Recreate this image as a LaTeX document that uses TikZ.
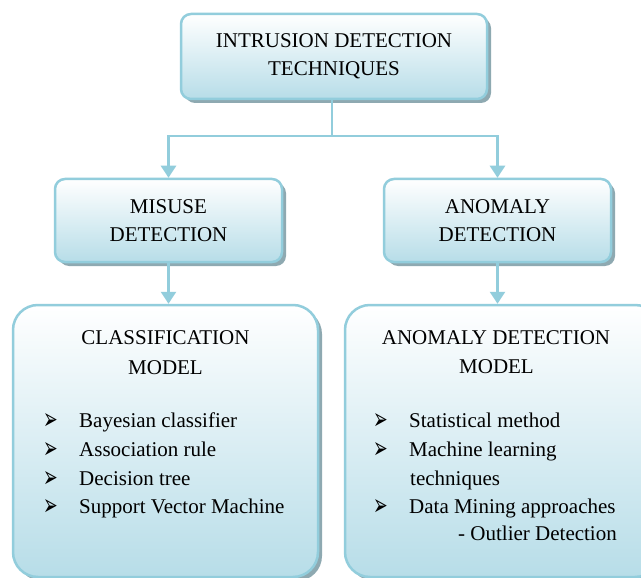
\documentclass[tikz,border=0pt]{standalone}
\usepackage{fontspec}
\usepackage{graphicx}
\setmainfont{Liberation Serif}
\newfontfamily\dejavu{DejaVu Sans}
\usetikzlibrary{shadows,arrows.meta}
\definecolor{edgec}{HTML}{92CDDC}
\definecolor{fillb}{HTML}{B7DDE8}
\definecolor{shadc}{HTML}{8EA9B1}
\newcommand\bul{\makebox[36pt][l]{\dejavu\fontsize{25}{25}\selectfont\raisebox{-2pt}{\scalebox{0.7}[1.2]{➢}}}}
\tikzset{
  box/.style={draw=edgec, line width=2.5pt, top color=white, bottom color=fillb,
    drop shadow={shadow xshift=4pt, shadow yshift=-4pt, fill=shadc, opacity=1},
    font=\fontsize{21}{28}\selectfont, align=center, inner sep=0pt},
  conn/.style={draw=edgec, line width=2.5pt},
  arr/.style={conn, -{Triangle[width=15pt,length=12pt]}},
  txt/.style={font=\fontsize{21}{28}\selectfont, anchor=base west, inner sep=0pt},
  ttl/.style={font=\fontsize{21}{28}\selectfont, anchor=base, inner sep=0pt},
}
\begin{document}
\begin{tikzpicture}[x=1pt,y=-1pt]
\path[use as bounding box, clip] (0,0) rectangle (641,578);
\fill[white] (0,0) rectangle (641,578);
% boxes
\node[box, minimum width=306pt, minimum height=85pt, rounded corners=10pt] (top) at (334,56.5) {INTRUSION DETECTION\\TECHNIQUES};
\node[box, minimum width=227pt, minimum height=83pt, rounded corners=10pt] (mis) at (168.5,220.5) {MISUSE\\DETECTION};
\node[box, minimum width=227pt, minimum height=83pt, rounded corners=10pt] (ano) at (497.5,220.5) {ANOMALY\\DETECTION};
\node[box, minimum width=305pt, minimum height=272pt, rounded corners=25pt] (cls) at (165.5,441) {};
\node[box, minimum width=315pt, minimum height=272pt, rounded corners=25pt] (amod) at (502.5,441) {};
% connectors
\coordinate (jt) at (332,136);
\draw[conn] (top.south -| jt) -- (jt);
\draw[arr] (jt) -| (mis.north);
\draw[arr] (jt) -| (ano.north);
\draw[arr] (mis.south) -- (mis.south |- cls.north);
\draw[arr] (ano.south) -- (ano.south |- amod.north);
% classification model text
\node[ttl] (clsT1) at (165.5,344) {CLASSIFICATION};
\node[ttl] (clsT2) at (165.5,374) {MODEL};
\node[txt] (c1) at (43,427) {\bul Bayesian classifier};
\node[txt] (c2) at (43,456) {\bul Association rule};
\node[txt] (c3) at (43,485) {\bul Decision tree};
\node[txt] (c4) at (43,513) {\bul Support Vector Machine};
% anomaly detection model text
\node[ttl] (amT1) at (496,344) {ANOMALY DETECTION};
\node[ttl] (amT2) at (496.5,373) {MODEL};
\node[txt] (a1) at (373,427) {\bul Statistical method};
\node[txt] (a2) at (373,456) {\bul Machine learning};
\node[txt] (a2b) at (410,485) {techniques};
\node[txt] (a3) at (373,513) {\bul Data Mining approaches};
\node[txt] (a3b) at (458,540) {- Outlier Detection};
\end{tikzpicture}
\end{document}
